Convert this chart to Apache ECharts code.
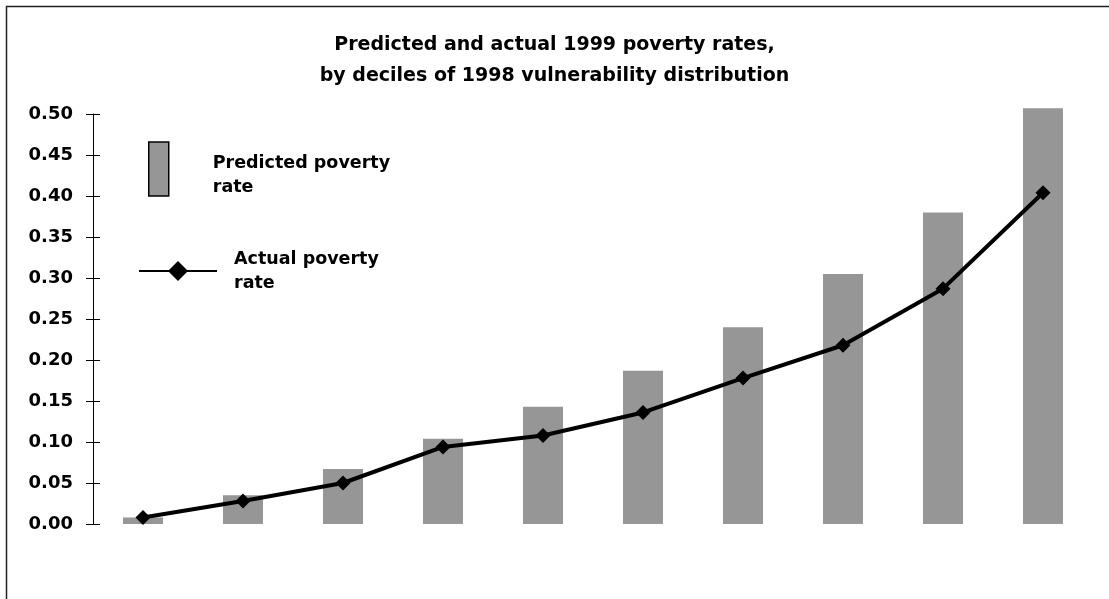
<!DOCTYPE html>
<html>
<head>
<meta charset="utf-8">
<script src="https://cdn.jsdelivr.net/npm/echarts@6/dist/echarts.min.js"></script>
<style>
  html, body { margin: 0; padding: 0; background: #fff; }
  #chart { width: 1109px; height: 599px; }
</style>
</head>
<body>
<div id="chart"></div>
<script>
// Deciles of the 1998 vulnerability distribution (1 = least vulnerable)
const deciles = ['1', '2', '3', '4', '5', '6', '7', '8', '9', '10'];
// Predicted 1999 poverty rate per decile
const predicted = [0.008, 0.035, 0.067, 0.104, 0.143, 0.187, 0.240, 0.305, 0.380, 0.507];
// Actual 1999 poverty rate per decile
const actual = [0.008, 0.028, 0.050, 0.094, 0.108, 0.136, 0.178, 0.218, 0.287, 0.404];
// Value axis ticks
const yTicks = { min: 0, max: 0.5, step: 0.05 };

const FONT = 'DejaVu Sans';
const gridBox = { left: 93, right: 16, top: 114, bottom: 75 };
const legendText = {
  fontFamily: FONT, fontWeight: 'bold', fontSize: 17.5, lineHeight: 24, color: '#000'
};

const chart = echarts.init(document.getElementById('chart'), null, { renderer: 'canvas' });

chart.setOption({
  animation: false,
  backgroundColor: '#fff',
  title: {
    text: 'Predicted and actual 1999 poverty rates,\nby deciles of 1998 vulnerability distribution',
    left: 'center',
    top: 30,
    padding: 0,
    textStyle: {
      fontFamily: FONT, fontWeight: 'bold', fontSize: 19, lineHeight: 31, color: '#000'
    }
  },
  legend: [
    {
      data: ['Predicted poverty rate'],
      orient: 'vertical',
      left: 148, top: 139,
      padding: 0,
      itemWidth: 20, itemHeight: 54,
      icon: 'rect',
      itemStyle: { borderColor: '#000', borderWidth: 1.5 },
      // a thin spacer line pushes the two text lines slightly below the swatch centre
      formatter: () => '{s| }\n{t|Predicted poverty}\n{t|rate}',
      textStyle: Object.assign({}, legendText, {
        padding: [0, 0, 0, 39],
        rich: {
          s: { fontSize: 1, lineHeight: 12 },
          t: Object.assign({}, legendText)
        }
      }),
      selectedMode: false
    },
    {
      data: ['Actual poverty rate'],
      orient: 'vertical',
      left: 138, top: 245,
      padding: 0,
      itemWidth: 78, itemHeight: 25,
      lineStyle: { width: 2, color: '#000' },
      formatter: () => 'Actual poverty\nrate',
      textStyle: Object.assign({}, legendText, { padding: [0, 0, 4, 12] }),
      selectedMode: false
    }
  ],
  grid: [
    Object.assign({}, gridBox),
    Object.assign({}, gridBox)
  ],
  xAxis: [
    {
      type: 'category', data: deciles, gridIndex: 0,
      axisLine: { show: false }, axisTick: { show: false }, axisLabel: { show: false }
    },
    {
      type: 'category', data: deciles, gridIndex: 1, show: false
    }
  ],
  yAxis: [
    {
      type: 'value', gridIndex: 0,
      min: yTicks.min, max: yTicks.max, interval: yTicks.step,
      axisLine: { show: true, lineStyle: { color: '#000', width: 1 } },
      axisTick: { show: true, inside: false, length: 7, lineStyle: { color: '#000', width: 1 } },
      axisLabel: {
        margin: 20, color: '#000', fontFamily: FONT, fontWeight: 'bold', fontSize: 18,
        formatter: v => v.toFixed(2)
      },
      splitLine: { show: false }
    },
    {
      // mirror axis that draws the inner half of each crossing tick
      type: 'value', gridIndex: 1,
      min: yTicks.min, max: yTicks.max, interval: yTicks.step,
      axisLine: { show: false },
      axisTick: { show: true, inside: true, length: 7, lineStyle: { color: '#000', width: 1 } },
      axisLabel: { show: false },
      splitLine: { show: false }
    }
  ],
  series: [
    {
      name: 'Predicted poverty rate',
      type: 'bar',
      data: predicted,
      barWidth: 40,
      clip: false,
      itemStyle: { color: '#969696' },
      z: 2
    },
    {
      name: 'Actual poverty rate',
      type: 'line',
      data: actual,
      clip: false,
      symbol: 'diamond',
      symbolSize: 15,
      lineStyle: { color: '#000', width: 4 },
      itemStyle: { color: '#000' },
      z: 3
    }
  ],
  graphic: [
    {
      type: 'rect',
      shape: { x: 6.5, y: 6.5, width: 1200, height: 700 },
      style: { fill: null, stroke: '#222', lineWidth: 1.5 },
      silent: true
    }
  ]
});
</script>
</body>
</html>
